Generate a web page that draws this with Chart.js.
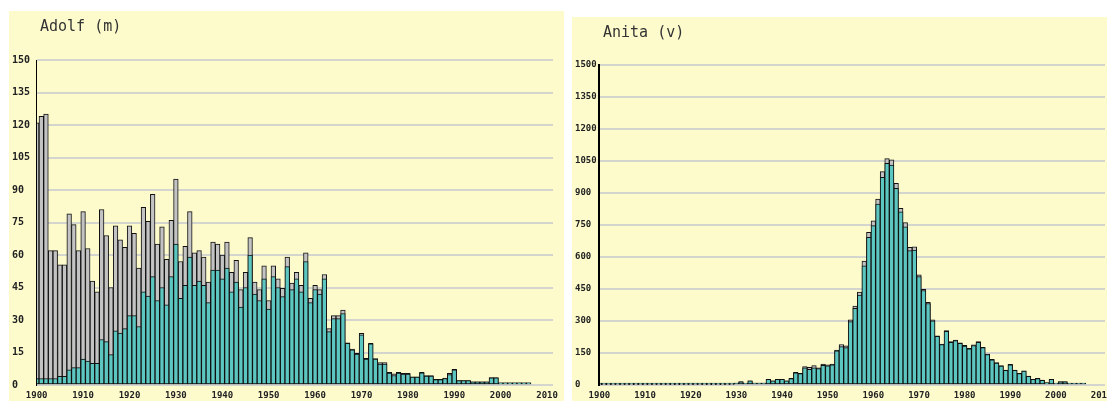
<!DOCTYPE html>
<html>
<head>
<meta charset="utf-8">
<script src="https://cdn.jsdelivr.net/npm/chart.js@4/dist/chart.umd.min.js"></script>
<style>
  body { margin: 0; background: #fff; width: 1107px; height: 401px; overflow: hidden; }
  .panel { position: absolute; background: #fdfbcc; }
  #p1 { left: 9px; top: 11px; width: 555px; height: 390px; }
  #p2 { left: 572px; top: 17px; width: 535px; height: 384px; }
</style>
</head>
<body>
<div class="panel" id="p1"><canvas id="adolfChart"></canvas></div>
<div class="panel" id="p2"><canvas id="anitaChart"></canvas></div>
<script>
// one bar per year, first year below
const FIRST_YEAR = 1900;

// Adolf (m): all bearers (grey top) and first-name bearers (teal)
const adolfTotal = [
  121, 124, 125, 62, 62, 55.5, 55.5, 79, 74, 62,
  80, 63, 48, 43, 81, 69, 45, 73.5, 67, 63.5,
  73.5, 70, 54, 82, 75.5, 88, 65, 73, 58, 76,
  95, 57, 64, 80, 61, 62, 59, 47.5, 66, 65,
  60, 66, 52, 57.5, 44, 52, 68, 47.5, 44, 55,
  39, 55, 49, 44.6, 59, 47, 52, 46, 61, 40,
  46, 44, 51, 26, 32, 32, 34.6, 19.5, 16.6, 14.6,
  23.8, 12.3, 19.2, 12.2, 10.3, 10.3, 5.8, 5.1, 5.8, 5.4,
  5.4, 3.8, 3.8, 5.8, 4.3, 4.3, 2.6, 2.6, 3.2, 5.4,
  7.2, 2, 2, 2, 1.5, 1.5, 1.5, 1.5, 3.4, 3.4,
  1, 1, 1, 1, 1, 1, 1,
];
const adolfFirst = [
  3, 3, 3, 3, 3, 4, 4, 7, 8, 8,
  12, 11, 10, 10, 21, 20, 14, 25, 24, 26,
  32, 32, 27, 43, 41, 50, 39, 45, 37, 50,
  65, 40, 46, 59, 46, 48, 46, 38, 53, 53,
  49, 54, 43, 47.5, 36, 45, 60, 42, 39, 49,
  35, 50, 45, 40.8, 54.6, 44, 49, 43, 57, 38,
  44, 42, 49, 24.6, 30.6, 30.6, 33, 19.2, 16.2, 14.3,
  23.2, 12, 19, 12, 9.6, 9.6, 5.5, 4.4, 5.5, 5,
  5, 3.6, 3.6, 5.6, 4.1, 4.1, 2.5, 2.5, 3, 4.8,
  7, 2, 2, 2, 1.5, 1.5, 1.5, 1.5, 3.3, 3.3,
  1, 1, 1, 1, 1, 1, 1,
];

// Anita (v)
const anitaTotal = [
  1, 1, 1, 1, 1, 1, 1, 1, 1, 1,
  1, 1, 1, 1, 1, 1, 1, 1, 1, 1,
  1, 1, 1, 1, 1, 1, 1, 1, 1, 1,
  9, 16, 8, 20, 9, 9, 9, 27, 20, 27,
  27, 20, 31, 59, 55, 86, 83, 91, 81, 98,
  94, 98, 164, 190, 184, 305, 370, 436, 581, 716,
  770, 872, 1000, 1061, 1055, 945, 828, 761, 645, 648,
  516, 448, 387, 305, 231, 192, 255, 203, 211, 198,
  186, 172, 188, 203, 177, 145, 120, 105, 91, 70,
  97, 70, 55, 66, 42, 27, 31, 23, 11, 27,
  5, 16, 16, 8, 8, 8, 8,
];
const anitaFirst = [
  1, 1, 1, 1, 1, 1, 1, 1, 1, 1,
  1, 1, 1, 1, 1, 1, 1, 1, 1, 1,
  1, 1, 1, 1, 1, 1, 1, 1, 1, 1,
  9, 15, 8, 19, 9, 9, 9, 26, 19, 26,
  26, 19, 30, 57, 53, 80, 73, 81, 77, 92,
  90, 94, 160, 180, 175, 297, 359, 422, 559, 692,
  747, 848, 973, 1039, 1031, 922, 812, 742, 630, 633,
  508, 443, 382, 301, 228, 190, 252, 200, 208, 195,
  183, 170, 185, 200, 175, 143, 118, 103, 89, 69,
  95, 69, 54, 65, 41, 26, 30, 22, 10, 26,
  5, 15, 15, 7, 7, 7, 7,
];

const TEAL = '#5cc6c0';
const GREY = '#c3c3c3';
const EDGE = '#111';
const GRID = '#d5d5cf';
const INK = '#222';
const MONO = '"DejaVu Sans Mono", monospace';

// panel title, left aligned away from the axis labels
const panelTitle = {
  id: 'panelTitle',
  afterDraw(chart, args, opts) {
    const ctx = chart.ctx;
    ctx.save();
    ctx.font = '15px ' + MONO;
    ctx.fillStyle = '#333';
    ctx.textBaseline = 'middle';
    ctx.fillText(opts.text, 31, 16);
    ctx.restore();
  },
};

function barSet(values, color, order, minBar) {
  return {
    data: values,
    backgroundColor: color,
    borderColor: EDGE,
    borderWidth: 1,
    borderSkipped: false,
    grouped: false,
    barPercentage: 1,
    categoryPercentage: 1,
    minBarLength: minBar,
    order: order,
  };
}

function nameChart(id, title, total, first, g) {
  return new Chart(document.getElementById(id), {
    type: 'bar',
    data: {
      labels: total.map((_, i) => FIRST_YEAR + i),
      datasets: [barSet(first, TEAL, 0, g.minBar), barSet(total, GREY, 1, 0)],
    },
    options: {
      responsive: true,
      maintainAspectRatio: false,
      animation: false,
      layout: { padding: { left: 3, right: g.right, top: g.top, bottom: 0 } },
      plugins: { legend: { display: false }, tooltip: { enabled: false }, panelTitle: { text: title } },
      scales: {
        x: {
          type: 'linear', offset: false, min: g.xMin, max: g.xMax,
          grid: { display: false, drawTicks: false },
          border: { display: false },
          ticks: {
            stepSize: 10, includeBounds: false, autoSkip: false, maxRotation: 0, padding: 5,
            color: INK, font: { family: MONO, size: 9, weight: 'bold' },
            callback: v => (v % 10 === 0 ? String(v) : null),
          },
          afterFit: s => { s.height = 16; s.paddingLeft = 0; s.paddingRight = 0; },
        },
        y: {
          min: 0, max: g.yMax,
          grid: { color: GRID, lineWidth: 2, drawTicks: false },
          border: { color: '#000', width: g.axisW, z: 1 },
          ticks: {
            stepSize: g.yMax / 10, crossAlign: 'far', padding: 0,
            color: INK, font: { family: MONO, size: g.ySize, weight: 'bold' },
            callback: v => String(v),
          },
          afterFit: s => { s.width = 24; },
        },
      },
    },
    plugins: [panelTitle],
  });
}

// 1. Adolf (m)
nameChart('adolfChart', 'Adolf (m)', adolfTotal, adolfFirst,
  { yMax: 150, top: 49, right: 11, xMin: 1899.85, xMax: 2011.27, axisW: 1, ySize: 10, minBar: 0 });

// 2. Anita (v)
nameChart('anitaChart', 'Anita (v)', anitaTotal, anitaFirst,
  { yMax: 1500, top: 48, right: 2, xMin: 1899.9, xMax: 2010.75, axisW: 2, ySize: 9, minBar: 2 });
</script>
</body>
</html>
